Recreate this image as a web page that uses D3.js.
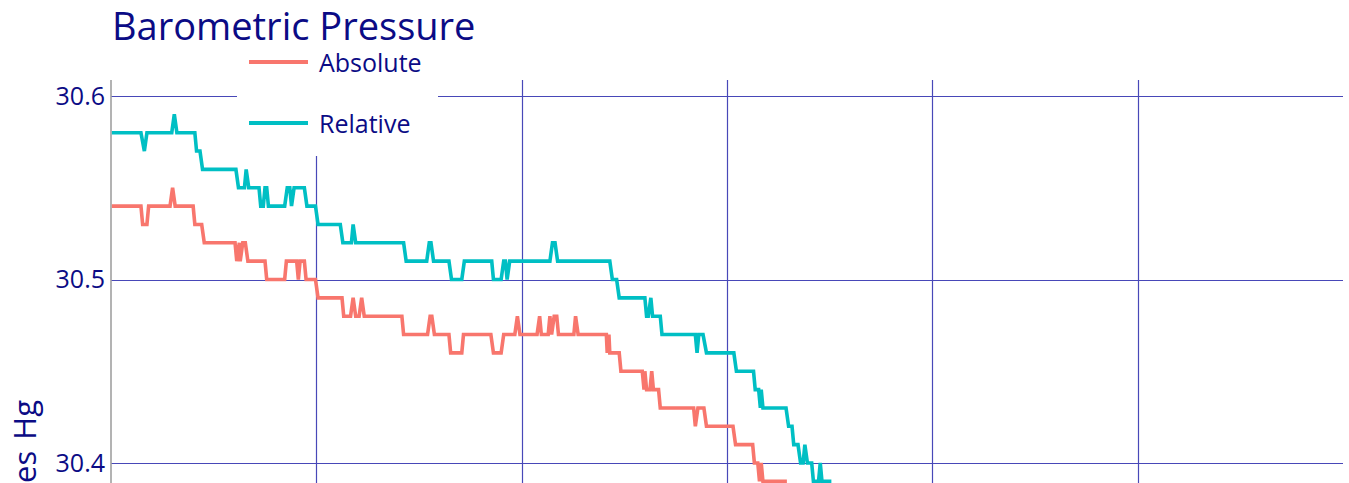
<!DOCTYPE html>
<html>
<head>
<meta charset="utf-8">
<script src="https://cdn.jsdelivr.net/npm/d3@7/dist/d3.min.js"></script>
<style>
  html, body { margin: 0; padding: 0; background: #fff; overflow: hidden; }
  svg { display: block; font-family: "Open Sans", "Noto Sans", sans-serif; }
</style>
</head>
<body>
<svg id="chart" width="1349" height="483"></svg>
<script>
// ---- data (minutes since start, pressure in inches Hg) ----
const seriesNames = ["Absolute", "Relative"];
const seriesColors = ["#F8766D", "#00BFC4"];

const relTime  = [1, 35, 39, 42, 71, 74, 77, 98, 100, 104, 107, 146, 149, 156, 158, 161,
  173, 175, 178, 180, 182, 184, 203, 206, 209, 211, 214, 226, 229, 239, 242, 268, 271,
  281, 283, 286, 342, 345, 369, 372, 374, 377, 395, 398, 410, 413, 445, 447, 456, 459,
  461, 463, 466, 513, 516, 519, 522, 583, 586, 591, 594, 624, 626, 628, 631, 633, 642,
  644, 683, 685, 687, 692, 696, 728, 731, 751, 753, 757, 759, 760, 762, 789, 792, 796,
  798, 803, 806, 809, 811, 814, 819, 821, 827, 829, 831, 842];
const relValue = [30.58, 30.58, 30.57, 30.58, 30.58, 30.59, 30.58, 30.58, 30.57, 30.57, 30.56, 30.56, 30.55, 30.55, 30.56, 30.55,
  30.55, 30.54, 30.54, 30.55, 30.55, 30.54, 30.54, 30.55, 30.55, 30.54, 30.55, 30.55, 30.54, 30.54, 30.53, 30.53, 30.52,
  30.52, 30.53, 30.52, 30.52, 30.51, 30.51, 30.52, 30.52, 30.51, 30.51, 30.50, 30.50, 30.51, 30.51, 30.50, 30.50, 30.51,
  30.51, 30.50, 30.51, 30.51, 30.52, 30.52, 30.51, 30.51, 30.50, 30.50, 30.49, 30.49, 30.48, 30.48, 30.49, 30.48, 30.48,
  30.47, 30.47, 30.46, 30.47, 30.47, 30.46, 30.46, 30.45, 30.45, 30.44, 30.44, 30.43, 30.44, 30.43, 30.43, 30.42, 30.42,
  30.41, 30.41, 30.40, 30.40, 30.41, 30.40, 30.40, 30.39, 30.39, 30.40, 30.39, 30.39];

const absTime  = [1, 35, 37, 42, 44, 69, 72, 75, 96, 98, 106, 109, 145, 147, 150, 151, 154, 157, 160,
  180, 182, 203, 205, 217, 219, 221, 226, 228, 239, 242, 270, 272, 280, 283, 286, 290, 293, 296,
  340, 342, 370, 373, 375, 378, 395, 397, 410, 412, 444, 447, 456, 459, 472, 475, 478, 498, 501,
  503, 511, 513, 515, 518, 521, 523, 541, 543, 546, 579, 580, 582, 583, 594, 596, 621, 623, 624,
  626, 630, 632, 634, 640, 642, 681, 683, 686, 693, 696, 727, 730, 750, 752, 756, 758, 760, 762, 790];
const absValue = [30.54, 30.54, 30.53, 30.53, 30.54, 30.54, 30.55, 30.54, 30.54, 30.53, 30.53, 30.52, 30.52, 30.51, 30.52, 30.51, 30.52, 30.52, 30.51,
  30.51, 30.50, 30.50, 30.51, 30.51, 30.50, 30.51, 30.51, 30.50, 30.50, 30.49, 30.49, 30.48, 30.48, 30.49, 30.48, 30.48, 30.49, 30.48,
  30.48, 30.47, 30.47, 30.48, 30.48, 30.47, 30.47, 30.46, 30.46, 30.47, 30.47, 30.46, 30.46, 30.47, 30.47, 30.48, 30.47, 30.47, 30.48,
  30.47, 30.47, 30.48, 30.47, 30.48, 30.48, 30.47, 30.47, 30.48, 30.47, 30.47, 30.46, 30.47, 30.46, 30.46, 30.45, 30.45, 30.44, 30.45,
  30.44, 30.44, 30.45, 30.44, 30.44, 30.43, 30.43, 30.42, 30.43, 30.43, 30.42, 30.42, 30.41, 30.41, 30.40, 30.40, 30.39, 30.40, 30.39, 30.39];

const yTickValues = [30.4, 30.5, 30.6];
const xGridMinutes = [240, 480, 720, 960, 1200];
const titleText = "Barometric Pressure";
const yAxisTitle = "Inches Hg";

// ---- layout ----
const W = 1349, H = 483;
const plot = { left: 111, right: 1343, top: 80 };
const textColor = "#0b0b85";
const gridColor = "#4848b8";

const svg = d3.select("#chart");

const x = d3.scaleLinear().domain([0, 1440]).range([plot.left, plot.right]);
const y = d3.scaleLinear().domain([30.4, 30.6]).range([463, 96]);

// gridlines
const grid = svg.append("g");
grid.selectAll("line.h").data(yTickValues).enter().append("line")
  .attr("x1", plot.left).attr("x2", plot.right)
  .attr("y1", d => Math.round(y(d)) + 0.5).attr("y2", d => Math.round(y(d)) + 0.5)
  .attr("stroke", gridColor).attr("stroke-width", 1.2);
grid.selectAll("line.v").data(xGridMinutes).enter().append("line")
  .attr("x1", d => Math.round(x(d)) + 0.5).attr("x2", d => Math.round(x(d)) + 0.5)
  .attr("y1", plot.top).attr("y2", H + 20)
  .attr("stroke", gridColor).attr("stroke-width", 1.2);

// y axis
const yAxis = d3.axisLeft(y).tickValues(yTickValues).tickSize(0).tickPadding(6).tickFormat(d3.format(".1f"));
const yg = svg.append("g").attr("transform", `translate(${plot.left},0)`).call(yAxis);
yg.select(".domain").remove();
yg.selectAll("text").attr("fill", textColor).attr("font-size", 25)
  .attr("font-family", '"Open Sans", sans-serif');
svg.append("line").attr("x1", plot.left).attr("x2", plot.left)
  .attr("y1", plot.top).attr("y2", H + 20)
  .attr("stroke", "#a0a0a0").attr("stroke-width", 1.6);

// series lines
const line = d3.line().x(d => x(d[0])).y(d => y(d[1]));
const seriesData = [
  d3.zip(absTime, absValue),
  d3.zip(relTime, relValue)
];
svg.append("g").selectAll("path").data(seriesData).enter().append("path")
  .attr("d", line)
  .attr("fill", "none")
  .attr("stroke", (d, i) => seriesColors[i])
  .attr("stroke-width", 3.6)
  .attr("stroke-linejoin", "miter")
  .attr("stroke-miterlimit", 2);

// legend
const leg = svg.append("g");
leg.append("rect").attr("x", 237).attr("y", 46).attr("width", 201).attr("height", 110).attr("fill", "#fff");
const legY = [62, 123];
seriesNames.forEach((name, i) => {
  leg.append("line").attr("x1", 249).attr("x2", 308)
    .attr("y1", legY[i]).attr("y2", legY[i])
    .attr("stroke", seriesColors[i]).attr("stroke-width", 4);
  leg.append("text").attr("x", 319).attr("y", legY[i] + 10)
    .attr("fill", textColor).attr("font-size", 25).text(name);
});

// title
svg.append("text").attr("x", 112).attr("y", 40)
  .attr("fill", textColor).attr("font-size", 38).text(titleText);

// y axis title (partly cut off by the window, as in the reference)
svg.append("text").attr("transform", "translate(36,400) rotate(-90)")
  .attr("text-anchor", "end").attr("fill", textColor).attr("font-size", 31)
  .attr("word-spacing", 3)
  .text(yAxisTitle);
</script>
</body>
</html>
